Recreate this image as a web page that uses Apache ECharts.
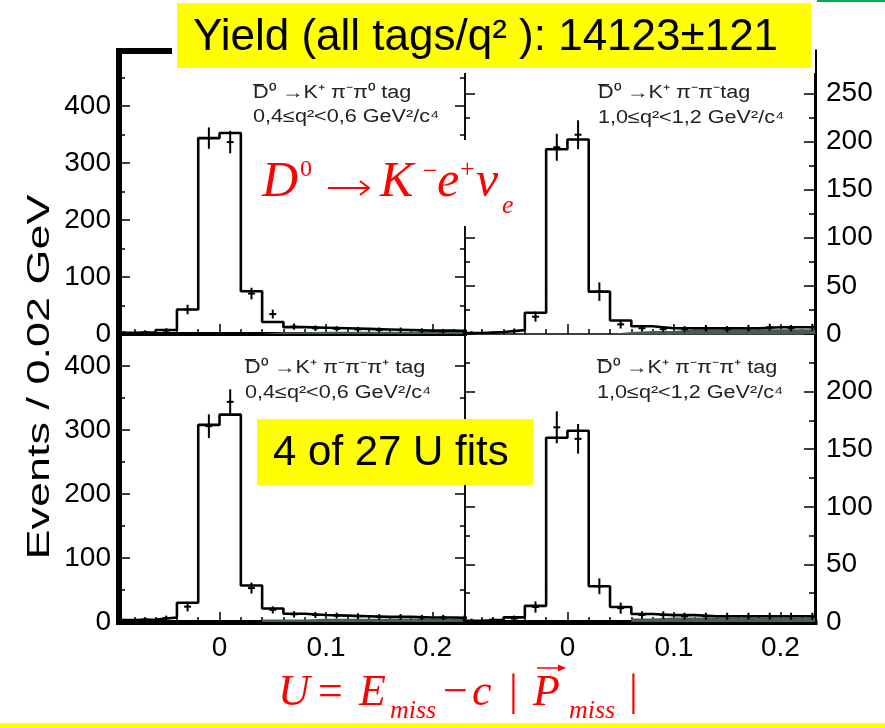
<!DOCTYPE html>
<html>
<head>
<meta charset="utf-8">
<script src="https://cdn.jsdelivr.net/npm/echarts@6/dist/echarts.min.js"></script>
<style>
html,body{margin:0;padding:0;background:#fff;}
#chart{width:885px;height:728px;}
</style>
</head>
<body>
<div id="chart"></div>
<script>
// ---- U distribution: bins of 0.02 GeV (lower edges) ----
const binLow = [-0.10,-0.08,-0.06,-0.04,-0.02,0.00,0.02,0.04,0.06,0.08,0.10,0.12,0.14,0.16,0.18,0.20,0.22];
const binWidth = 0.02;

// x-axis ticks (GeV)
const xLabelValues = [0, 0.1, 0.2];
const xMinorValues = [-0.08,-0.06,-0.04,-0.02,0.02,0.04,0.06,0.08,0.12,0.14,0.16,0.18,0.22];

// D0bar -> K+ pi- pi0 tag, 0.4 <= q2 < 0.6
const fitTL  = [2,3,7,43,344,353,75,21,12,11,10,9,8,7,6,6,5];
const dataTL = [2,3,6,43,344,337,71,35,13,10,9,8,7,7,6,5,5];
const errTL  = [1.4,1.7,2.4,6.6,17,18,8.5,6,3.6,3.2,3,2.8,2.6,2.6,2.4,2.2,2.2];
const bkgTL  = [0,0,0,0,0,0,0,3,3,4,4,4,4,4,4,4,4];
const yLabelsTL = [0,100,200,300,400];
const yMinorTL  = [50,150,250,350,450];

// D0bar -> K+ pi- pi- tag, 1.0 <= q2 < 1.2
const fitTR  = [1,2,4,22,192,202,44,14,8,6,6,6,6,6,7,7,7];
const dataTR = [1,1,3,18,194,207,44,10,6,5,5,6,5,6,7,6,7];
const errTR  = [1,1,1.7,4.2,13,14,8.6,3.2,2.4,2.2,2.2,2.4,2.2,2.4,2.6,2.4,2.6];
const bkgTR  = [0,0,0,0,0,0,0,2,3,3,5,5,5,5,5,5,5];
const yLabelsTR = [0,50,100,150,200,250];
const yMinorTR  = [25,75,125,175,225,275];

// D0bar -> K+ pi- pi- pi+ tag, 0.4 <= q2 < 0.6
const fitBL  = [3,4,7,30,308,324,57,21,13,11,10,9,8,8,7,7,6];
const dataBL = [2,4,6,24,306,344,53,19,12,11,10,9,8,8,7,7,6];
const errBL  = [1.4,2,2.4,6,17,18,7,4,3.4,3.2,3,3,2.8,2.8,2.6,2.6,2.4];
const bkgBL  = [0,0,0,0,0,0,0,4,4,5,5,5,5,5,5,5,5];
const yLabelsBL = [0,100,200,300,400];
const yMinorBL  = [50,150,250,350,450];

// D0bar -> K+ pi- pi- pi+ tag, 1.0 <= q2 < 1.2
const fitBR  = [1,2,4,14,160,166,31,13,7,6,6,5,5,5,5,5,5];
const dataBR = [1,2,3,13,169,159,31,12,6,6,5,5,5,5,5,5,5];
const errBR  = [1,1.4,1.7,4,13,12,6,4,2.4,2.4,2.2,2.2,2.2,2.2,2.2,2.2,2.2];
const bkgBR  = [0,0,0,0,0,0,0,0,3,4,4,4,4,4,4,4,4];
const yLabelsBR = [0,50,100,150,200];
const yMinorBR  = [25,75,125,175,225];

// ---- layout of the four pads ----
const INK = '#000';
const BKG = '#445c5c';
const SANS = '"Liberation Sans", Arial, Helvetica, sans-serif';
const SERIF = '"Liberation Serif", "Times New Roman", serif';

const pads = [
  { grid:{left:119, top:51, width:346, height:283}, xMin:-0.0944, xMax:0.2305, yMax:497,
    fit:fitTL, data:dataTL, err:errTL, bkg:bkgTL, yLabels:yLabelsTL, yMinor:yMinorTL,
    outer:'left', outerW:6, innerW:1.5, bottomW:4, topW:6, xLabels:false },
  { grid:{left:465, top:51, width:350, height:283}, xMin:-0.0962, xMax:0.2325, yMax:294,
    fit:fitTR, data:dataTR, err:errTR, bkg:bkgTR, yLabels:yLabelsTR, yMinor:yMinorTR,
    outer:'right', outerW:3, innerW:1.5, bottomW:1.5, topW:3, xLabels:false },
  { grid:{left:119, top:334, width:346, height:288}, xMin:-0.0944, xMax:0.2305, yMax:450,
    fit:fitBL, data:dataBL, err:errBL, bkg:bkgBL, yLabels:yLabelsBL, yMinor:yMinorBL,
    outer:'left', outerW:6, innerW:1.5, bottomW:5, topW:0, xLabels:true },
  { grid:{left:465, top:334, width:350, height:288}, xMin:-0.0962, xMax:0.2325, yMax:250,
    fit:fitBR, data:dataBR, err:errBR, bkg:bkgBR, yLabels:yLabelsBR, yMinor:yMinorBR,
    outer:'right', outerW:3, innerW:1.5, bottomW:5, topW:0, xLabels:true }
];

const tickFont = { fontSize:28, fontFamily:SANS, color:INK };

function stepPoints(vals) {
  const pts = binLow.map((x, i) => [x, vals[i]]);
  pts.push([binLow[binLow.length - 1] + binWidth, vals[vals.length - 1]]);
  return pts;
}

const grids = [], xAxes = [], yAxes = [], series = [];

function axisBase(gi, pos, min, max) {
  return { gridIndex: gi, type: 'value', position: pos, min: min, max: max, splitLine: { show: false } };
}

pads.forEach((p, gi) => {
  grids.push(p.grid);
  const xMain = xAxes.length;
  xAxes.push(Object.assign(axisBase(gi, 'bottom', p.xMin, p.xMax), {
    axisLine: { show: true, onZero: false, lineStyle: { color: INK, width: p.bottomW, cap: 'square' } },
    axisTick: { show: true, inside: true, length: 10, customValues: xLabelValues, lineStyle: { color: INK, width: 1.5 } },
    axisLabel: Object.assign({ show: p.xLabels, margin: 12, customValues: xLabelValues }, tickFont)
  }));
  xAxes.push(Object.assign(axisBase(gi, 'bottom', p.xMin, p.xMax), {
    axisLine: { show: false, onZero: false },
    axisTick: { show: true, inside: true, length: 5, customValues: xMinorValues, lineStyle: { color: INK, width: 1.5 } },
    axisLabel: { show: false }
  }));
  if (p.topW) {
    xAxes.push(Object.assign(axisBase(gi, 'top', p.xMin, p.xMax), {
      axisLine: { show: true, onZero: false, lineStyle: { color: INK, width: p.topW, cap: 'square' } },
      axisTick: { show: false }, axisLabel: { show: false }
    }));
  }
  const inner = p.outer === 'left' ? 'right' : 'left';
  const yMain = yAxes.length;
  // outer axis with labels
  yAxes.push(Object.assign(axisBase(gi, p.outer, 0, p.yMax), {
    axisLine: { show: true, onZero: false, lineStyle: { color: INK, width: p.outerW, cap: 'square' } },
    axisTick: { show: true, inside: true, length: 11, customValues: p.yLabels, lineStyle: { color: INK, width: 1.5 } },
    axisLabel: Object.assign({ show: true, margin: p.outer === 'left' ? 8 : 11, customValues: p.yLabels }, tickFont)
  }));
  yAxes.push(Object.assign(axisBase(gi, p.outer, 0, p.yMax), {
    axisLine: { show: false, onZero: false },
    axisTick: { show: true, inside: true, length: 6, customValues: p.yMinor, lineStyle: { color: INK, width: 1.5 } },
    axisLabel: { show: false }
  }));
  // inner edge shared with the neighbouring pad
  yAxes.push(Object.assign(axisBase(gi, inner, 0, p.yMax), {
    axisLine: { show: true, onZero: false, lineStyle: { color: INK, width: p.innerW } },
    axisTick: { show: true, inside: true, length: 10, customValues: p.yLabels, lineStyle: { color: INK, width: 1.5 } },
    axisLabel: { show: false }
  }));
  yAxes.push(Object.assign(axisBase(gi, inner, 0, p.yMax), {
    axisLine: { show: false, onZero: false },
    axisTick: { show: true, inside: true, length: 5, customValues: p.yMinor, lineStyle: { color: INK, width: 1.5 } },
    axisLabel: { show: false }
  }));

  // background component (filled)
  series.push({
    type: 'line', xAxisIndex: xMain, yAxisIndex: yMain, step: 'end', symbol: 'none',
    data: stepPoints(p.bkg), lineStyle: { width: 0 }, areaStyle: { color: BKG, opacity: 1 },
    clip: true, z: 2, silent: true
  });
  // fitted shape
  series.push({
    type: 'line', xAxisIndex: xMain, yAxisIndex: yMain, step: 'end', symbol: 'none',
    data: stepPoints(p.fit), lineStyle: { color: INK, width: 2.6 }, clip: true, z: 3, silent: true
  });
  // data with error bars
  series.push({
    type: 'custom', xAxisIndex: xMain, yAxisIndex: yMain, clip: true, z: 4, silent: true,
    data: binLow.map((x, i) => [x + binWidth / 2, p.data[i], p.err[i]]),
    encode: { x: 0, y: 1 },
    renderItem: function (params, api) {
      const x = api.value(0), y = api.value(1), e = api.value(2);
      const c = api.coord([x, y]);
      const top = api.coord([x, y + e]);
      const bot = api.coord([x, Math.max(0, y - e)]);
      return {
        type: 'group', children: [
          { type: 'line', shape: { x1: c[0], y1: top[1] - 1, x2: c[0], y2: bot[1] + 1 }, style: { stroke: INK, lineWidth: 2 } },
          { type: 'line', shape: { x1: c[0] - 3.5, y1: c[1], x2: c[0] + 3.5, y2: c[1] }, style: { stroke: INK, lineWidth: 2 } }
        ]
      };
    }
  });
});

// ---- annotations ----
function txt(x, y, text, size, opts) {
  return Object.assign({
    type: 'text', x: x, y: y, z: 110,
    style: Object.assign({ text: text, fontSize: size, fontFamily: SANS, fill: INK, align: 'left', verticalAlign: 'middle' }, (opts && opts.style) || {})
  }, opts ? { rotation: opts.rotation || 0, scaleX: opts.scaleX || 1, scaleY: opts.scaleY || 1 } : {});
}
function redItalic(x, y, text, size) {
  return txt(x, y, text, size, { style: { fontFamily: SERIF, fontStyle: 'italic', fill: '#ff0000' } });
}
function redUpright(x, y, text, size) {
  return txt(x, y, text, size, { style: { fontFamily: SERIF, fill: '#ff0000' } });
}
const padLabel = { style: { fill: '#222' }, scaleX: 1.2 };
function bar(x, y, w) {
  return { type: 'rect', z: 110, shape: { x: x, y: y, width: w, height: 1.3 }, style: { fill: '#222' } };
}

const graphics = [
  // header
  { type: 'rect', z: 100, shape: { x: 172, y: 0, width: 643, height: 73 }, style: { fill: '#fff' } },
  { type: 'rect', z: 101, shape: { x: 177, y: 3, width: 634, height: 65 }, style: { fill: '#ffff00' } },
  txt(193, 38, 'Yield (all tags/q² ): 14123±121', 44),
  { type: 'rect', z: 101, shape: { x: 817, y: 0, width: 68, height: 2 }, style: { fill: '#00b050' } },

  // pad captions
  txt(253, 93, 'D⁰ →K⁺ π⁻π⁰ tag', 18, padLabel), bar(253, 84, 11),
  txt(253, 117, '0,4≤q²<0,6 GeV²/c⁴', 18, padLabel),
  txt(598, 93, 'D⁰ →K⁺ π⁻π⁻tag', 18, padLabel), bar(598, 84, 11),
  txt(598, 118, '1,0≤q²<1,2 GeV²/c⁴', 18, padLabel),
  txt(245, 368, 'D⁰ →K⁺ π⁻π⁻π⁺ tag', 18, padLabel), bar(245, 359, 11),
  txt(245, 393, '0,4≤q²<0,6 GeV²/c⁴', 18, padLabel),
  txt(597, 368, 'D⁰ →K⁺ π⁻π⁻π⁺ tag', 18, padLabel), bar(597, 359, 11),
  txt(597, 393, '1,0≤q²<1,2 GeV²/c⁴', 18, padLabel),

  // decay channel
  { type: 'rect', z: 100, shape: { x: 250, y: 140, width: 272, height: 86 }, style: { fill: '#fff' } },
  redItalic(262, 183, 'D', 50),
  redUpright(300, 170, '0', 24),
  { type: 'line', z: 110, shape: { x1: 328, y1: 188, x2: 368, y2: 188 }, style: { stroke: '#ff0000', lineWidth: 2 } },
  { type: 'polyline', z: 110, shape: { points: [[360, 181], [369, 188], [360, 195]] }, style: { stroke: '#ff0000', lineWidth: 2, fill: null } },
  redItalic(380, 183, 'K', 50),
  redUpright(423, 172, '−', 26),
  redItalic(437, 183, 'e', 50),
  redUpright(460, 170, '+', 26),
  redItalic(476, 183, 'ν', 50),
  redItalic(502, 206, 'e', 26),

  // fit count box
  { type: 'rect', z: 100, shape: { x: 257, y: 419, width: 276, height: 66 }, style: { fill: '#ffff00' } },
  txt(273, 453, '4 of 27 U fits', 42),

  // axis title
  txt(40, 377, 'Events / 0.02 GeV', 31, { rotation: Math.PI / 2, style: { align: 'center' }, scaleX: 1.45 }),

  // U definition
  redItalic(278, 693, 'U', 44),
  redUpright(318, 693, '=', 44),
  redItalic(359, 693, 'E', 44),
  redItalic(390, 711, 'miss', 26),
  redUpright(443, 693, '−', 44),
  redItalic(472, 693, 'c', 44),
  redUpright(509, 693, '|', 44),
  redItalic(533, 693, 'P', 44),
  redItalic(569, 711, 'miss', 26),
  redUpright(629, 693, '|', 44),
  { type: 'line', z: 110, shape: { x1: 537, y1: 668, x2: 563, y2: 668 }, style: { stroke: '#ff0000', lineWidth: 1.5 } },
  { type: 'polygon', z: 110, shape: { points: [[566, 668], [558, 664.5], [558, 671.5]] }, style: { fill: '#ff0000' } },

  // bottom rule
  { type: 'rect', z: 100, shape: { x: 0, y: 723, width: 885, height: 5 }, style: { fill: '#ffff00' } }
];

const chart = echarts.init(document.getElementById('chart'), null, { renderer: 'canvas' });
chart.setOption({
  animation: false,
  backgroundColor: '#fff',
  grid: grids,
  xAxis: xAxes,
  yAxis: yAxes,
  series: series,
  graphic: graphics
});
</script>
</body>
</html>
